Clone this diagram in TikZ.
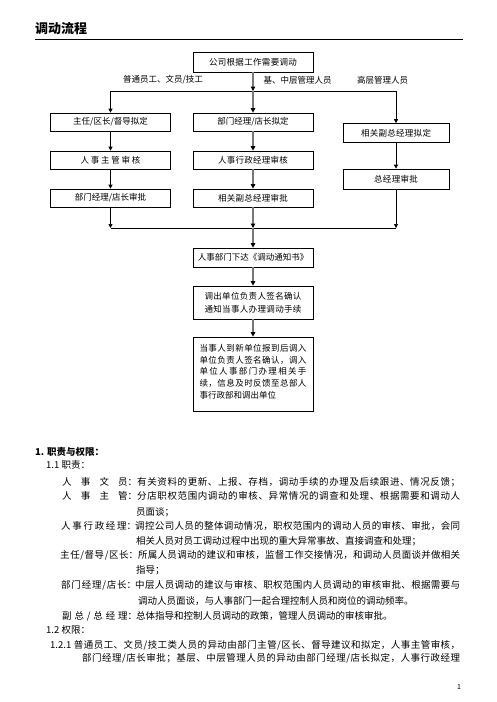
\documentclass[tikz,border=0pt]{standalone}
\usepackage{fontspec}
\setmainfont{Noto Sans CJK SC}
\usetikzlibrary{arrows.meta}
\makeatletter
\def\spr@#1{\ifx\relax#1\else#1\hskip 0pt plus 1pt\relax\expandafter\spr@\fi}
\newcommand\spr[1]{\spr@#1\relax\unskip}
\makeatother
\newcommand\jl[2]{\makebox[#1][s]{\spr{#2}}}
\definecolor{trunkgray}{RGB}{120,120,120}
\tikzset{
  box/.style={draw, line width=0.7pt, minimum width=120pt, minimum height=18pt, inner sep=0pt, font=\fontsize{8.5}{10}\selectfont},
  rbox/.style={box, minimum width=106pt},
  ar/.style={-{Triangle[length=4pt,width=4pt]}, line width=0.7pt},
  trunk/.style={-{Triangle[length=4.5pt,width=4.5pt,color=black]}, draw=trunkgray, line width=1.5pt},
  plain/.style={line width=0.7pt},
  lbl/.style={inner sep=0pt, font=\fontsize{8.5}{10}\selectfont},
  body/.style={anchor=west, inner sep=0pt, font=\fontsize{9.5}{12}\selectfont},
}
\begin{document}
\begin{tikzpicture}[x=1pt,y=-1pt]
\useasboundingbox (0,0) rectangle (496,702);
% title
\node[anchor=west, inner sep=0pt, font=\fontsize{13}{15}\selectfont\bfseries] (title) at (35,28.5) {调动流程};
\coordinate (ruleL) at (35,39);
\coordinate (ruleR) at (463,39);
\draw[line width=0.9pt] (ruleL) -- (ruleR);

% flowchart
\node[box, minimum height=20pt] (top) at (253,62) {\jl{88pt}{公司根据工作需要调动}};
\node[lbl] (la) at (163,80) {普通员工、文员/技工};
\node[lbl] (lb) at (297.5,80) {基、中层管理人员};
\node[lbl] (lc) at (382.5,80) {高层管理人员};
\coordinate (hT) at (253,91);

\node[box] (L1) at (110.5,122) {主任/区长/督导拟定};
\node[box] (L2) at (110.5,160) {\jl{60pt}{人事主管审核}};
\node[box] (L3) at (110.5,198) {部门经理/店长审批};
\node[box] (C1) at (253,122) {部门经理/店长拟定};
\node[box] (C2) at (253,160) {\jl{70pt}{人事行政经理审核}};
\node[box] (C3) at (253,198) {\jl{70pt}{相关副总经理审批}};
\node[rbox, minimum height=19pt] (R1) at (396,133) {\jl{70pt}{相关副总经理拟定}};
\node[rbox, minimum height=20pt] (R2) at (396,179) {\jl{44pt}{总经理审批}};
\coordinate (hB) at (253,228);

\node[box, minimum height=19pt] (N1) at (253,257.5) {人事部门下达《调动通知书》};
\node[box, minimum height=33pt, align=center, font=\fontsize{8.5}{13}\selectfont] (N2) at (253,302.5) {\jl{97pt}{调出单位负责人签名确认}\\\jl{97pt}{通知当事人办理调动手续}};
\node[box, minimum height=74pt] (N3) at (253,374) {};
\node[inner sep=0pt, align=left, font=\fontsize{8.5}{11.7}\selectfont] (N3t) at (253,371.5) {\jl{107pt}{当事人到新单位报到后调入}\\\jl{107pt}{单位负责人签名确认，调入}\\\jl{107pt}{单位人事部门办理相关手}\\\jl{107pt}{续，信息及时反馈至总部人}\\\makebox[107pt][l]{\spr{事行政部和调出单位}}};

% connectors
\draw[trunk] (top) -- (hT);
\draw[ar] (hT) -| (L1);
\draw[ar] (hT) -| (R1);
\draw[trunk] (hT) -- (C1);
\draw[ar] (L1) -- (L2);
\draw[ar] (L2) -- (L3);
\draw[trunk] (C1) -- (C2);
\draw[trunk] (C2) -- (C3);
\draw[ar] (R1) -- (R2);
\draw[plain] (L3 |- hB) -- (R2 |- hB);
\draw[ar] (L3) -- (L3 |- hB);
\draw[ar] (R2) -- (R2 |- hB);
\draw[trunk] (C3) -- (hB);
\draw[trunk] (hB) -- (N1);
\draw[trunk] (N1) -- (N2);
\draw[trunk] (N2) -- (N3);

% body text
\node[body, font=\fontsize{9.5}{12}\selectfont\bfseries] (h1) at (35,452) {1. 职责与权限：};
\node[body] (h11) at (46,465) {1.1 职责：};
\node[body] (a1) at (62,482) {\jl{75pt}{人事文{员：}}};
\node[body] (a1t) at (137,482) {\jl{323pt}{有关资料的更新、上报、存档，调动手续的办理及后续跟进、情况反馈；}};
\node[body] (a2) at (62,496) {\jl{75pt}{人事主{管：}}};
\node[body] (a2t) at (137,496) {\jl{323pt}{分店职权范围内调动的审核、异常情况的调查和处理、根据需要和调动人}};
\node[body] (a2u) at (136,512) {员面谈；};
\node[body] (a3) at (61,526) {\jl{75pt}{人事行政经{理：}}};
\node[body] (a3t) at (135,526) {\jl{325pt}{调控公司人员的整体调动情况，职权范围内的调动人员的审核、审批，会同}};
\node[body] (a3u) at (136,541) {相关人员对员工调动过程中出现的重大异常事故、直接调查和处理；};
\node[body] (a4) at (60,555) {\jl{78pt}{主任/督导/区{长：}}};
\node[body] (a4t) at (138,555) {\jl{322pt}{所属人员调动的建议和审核，监督工作交接情况，和调动人员面谈并做相关}};
\node[body] (a4u) at (136,570) {指导；};
\node[body] (a5) at (61,585) {\jl{75pt}{部门经理/店{长：}}};
\node[body] (a5t) at (135,585) {\jl{325pt}{中层人员调动的建议与审核、职权范围内人员调动的审核审批、根据需要与}};
\node[body] (a5u) at (138,601) {调动人员面谈，与人事部门一起合理控制人员和岗位的调动频率。};
\node[body] (a6) at (62,616) {\jl{75pt}{副总/总经{理：}}};
\node[body] (a6t) at (136,616) {总体指导和控制人员调动的政策，管理人员调动的审核审批。};
\node[body] (h12) at (46,630) {1.2 权限：};
\node[body] (b1) at (50,645) {\makebox[410pt][s]{1.2.1 \spr{普通员工、文员/技工类人员的异动由部门主管/区长、督导建议和拟定，人事主管审核，}}};
\node[body] (b1u) at (82,658) {\jl{378pt}{部门经理/店长审批；基层、中层管理人员的异动由部门经理/店长拟定，人事行政经理}};
\node[inner sep=0pt, font=\fontsize{7}{8}\selectfont] (pg) at (459,687) {1};
\end{tikzpicture}
\end{document}
